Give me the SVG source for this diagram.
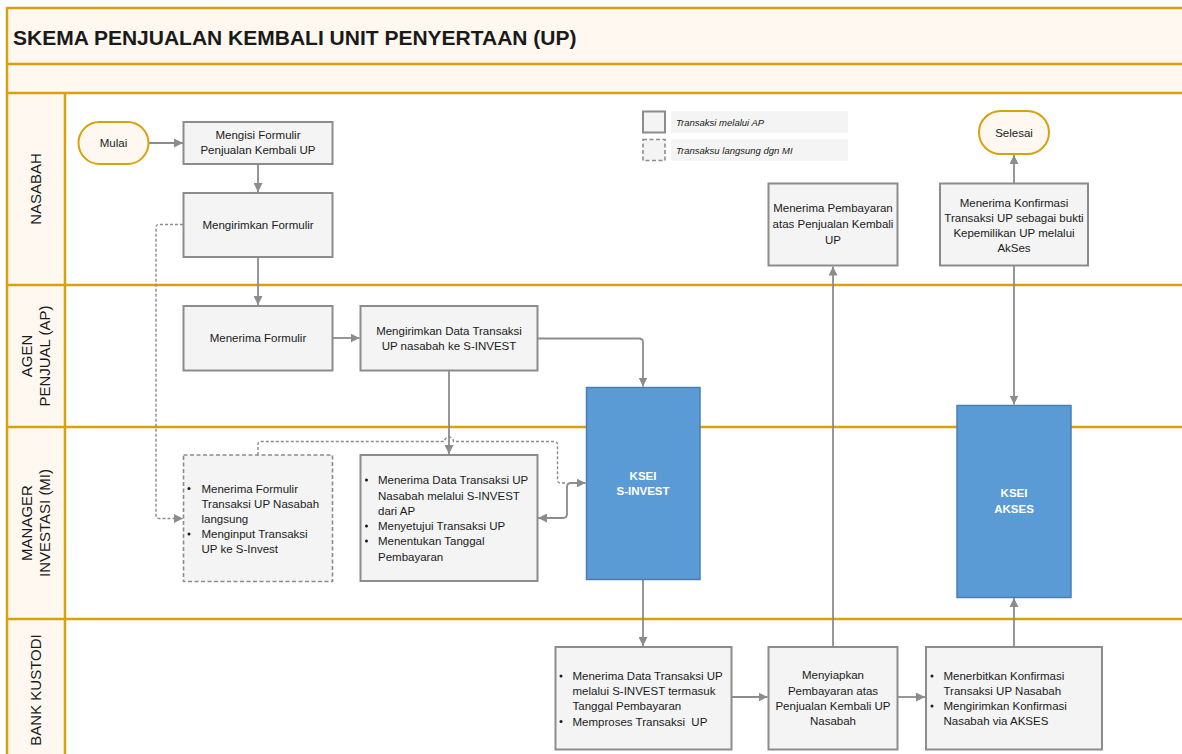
<svg xmlns="http://www.w3.org/2000/svg" width="1182" height="754" viewBox="0 0 1182 754">
<style>
text{font-family:"Liberation Sans",Arial,sans-serif;fill:#1a1a1a}
.t{font-size:11.5px}
.c{text-anchor:middle}
.lane{font-size:15px;text-anchor:middle}
.box{fill:#f4f4f4;stroke:#8c8c8c;stroke-width:2}
.dbox{fill:#f4f4f4;stroke:#8c8c8c;stroke-width:1.6;stroke-dasharray:4 2.5}
.term{fill:#fef8f1;stroke:#d8a10e;stroke-width:2}
.blue{fill:#5b9bd5;stroke:#4a7fb5;stroke-width:1.5}
.bt{font-size:11.5px;font-weight:bold;fill:#ffffff;text-anchor:middle}
.gl{stroke:#d8a10e;stroke-width:2.5;fill:none}
.cn{fill:none;stroke:#8c8c8c;stroke-width:1.8}
.dn{fill:none;stroke:#8c8c8c;stroke-width:1.4;stroke-dasharray:3 2}
.leg{font-size:9.5px;font-style:italic}
</style>
<defs>
<marker id="ah" viewBox="0 0 10 10" refX="10" refY="5" markerWidth="9" markerHeight="9" markerUnits="userSpaceOnUse" orient="auto-start-reverse">
<path d="M0,0 L10,5 L0,10 z" fill="#8c8c8c"/>
</marker>
</defs>
<g id="swimlanes">
<rect x="7" y="8" width="1176" height="56" fill="#fef8f1"/>
<rect x="7" y="64" width="1176" height="29" fill="#fef8f1"/>
<rect x="7" y="93" width="58" height="662" fill="#fef8f1"/>
<line class="gl" x1="7" y1="8" x2="1183" y2="8"/>
<line class="gl" x1="7" y1="64" x2="1183" y2="64"/>
<line class="gl" x1="7" y1="93" x2="1183" y2="93"/>
<line class="gl" x1="7" y1="285" x2="1183" y2="285"/>
<line class="gl" x1="7" y1="427" x2="1183" y2="427"/>
<line class="gl" x1="7" y1="619" x2="1183" y2="619"/>
<line class="gl" x1="7" y1="7" x2="7" y2="755"/>
<line class="gl" x1="65" y1="93" x2="65" y2="755"/>
<text x="13" y="44.5" style="font-size:21px;font-weight:bold">SKEMA PENJUALAN KEMBALI UNIT PENYERTAAN (UP)</text>
<text class="lane" transform="translate(41,189) rotate(-90)">NASABAH</text>
<text class="lane" transform="translate(32,356) rotate(-90)">AGEN</text>
<text class="lane" transform="translate(50,356) rotate(-90)">PENJUAL (AP)</text>
<text class="lane" transform="translate(32,523) rotate(-90)">MANAGER</text>
<text class="lane" transform="translate(50,523) rotate(-90)">INVESTASI (MI)</text>
<text class="lane" transform="translate(41,690) rotate(-90)">BANK KUSTODI</text>
</g>
<g id="legend">
<rect x="643" y="111.5" width="22" height="21" class="box"/>
<rect x="671" y="111" width="177" height="22" fill="#f4f4f4"/>
<text class="leg" x="676" y="125.5">Transaksi melalui AP</text>
<rect x="643" y="139.5" width="22" height="21" class="dbox"/>
<rect x="671" y="139" width="177" height="22" fill="#f4f4f4"/>
<text class="leg" x="676" y="153.5">Transaksu langsung dgn MI</text>
</g>
<g id="connectors">
<path class="cn" d="M148.5,143 H183" marker-end="url(#ah)"/>
<path class="cn" d="M258,164.5 V192" marker-end="url(#ah)"/>
<path class="cn" d="M258,257 V305" marker-end="url(#ah)"/>
<path class="cn" d="M333,338 H359.5" marker-end="url(#ah)"/>
<path class="cn" d="M537.5,338.5 H639 Q643,338.5 643,342.5 V386.5" marker-end="url(#ah)"/>
<path class="cn" d="M449,370.5 V454" marker-end="url(#ah)"/>
<path class="dn" d="M183,224.5 H159 Q156,224.5 156,227.5 V515.5 Q156,518.5 159,518.5 H183" marker-end="url(#ah)"/>
<path class="dn" d="M258,455 V444.5 Q258,441.5 261,441.5 H444.5 A4.5,4.5 0 0 1 453.5,441.5 H554.5 Q557.5,441.5 557.5,444.5 V480 Q557.5,483 560.5,483 H567"/>
<path class="cn" d="M538,518 H563 Q567,518 567,514 V487 Q567,483 571,483 H585.5" marker-start="url(#ah)" marker-end="url(#ah)"/>
<path class="cn" d="M643,579.5 V646" marker-end="url(#ah)"/>
<path class="cn" d="M731.5,697 H767.5" marker-end="url(#ah)"/>
<path class="cn" d="M898,697 H925" marker-end="url(#ah)"/>
<path class="cn" d="M833,646.5 V266.5" marker-end="url(#ah)"/>
<path class="cn" d="M1014,646.5 V598" marker-end="url(#ah)"/>
<path class="cn" d="M1014,266 V404.5" marker-end="url(#ah)"/>
<path class="cn" d="M1014,183 V155" marker-end="url(#ah)"/>
</g>
<g id="mulai">
<rect x="78.5" y="122" width="70" height="42" rx="21" class="term"/>
<text class="t c" x="113.5" y="147">Mulai</text>
</g>
<g id="mengisi">
<rect x="183.5" y="122" width="149" height="42" class="box"/>
<text class="t c" x="258" y="139">Mengisi Formulir</text>
<text class="t c" x="258" y="154">Penjualan Kembali UP</text>
</g>
<g id="mengirimkan-formulir">
<rect x="183.5" y="193" width="149" height="64" class="box"/>
<text class="t c" x="258" y="228.5">Mengirimkan Formulir</text>
</g>
<g id="menerima-formulir">
<rect x="183.5" y="306" width="149" height="64.5" class="box"/>
<text class="t c" x="258" y="342">Menerima Formulir</text>
</g>
<g id="mengirimkan-data">
<rect x="360.5" y="306" width="177" height="64.5" class="box"/>
<text class="t c" x="449" y="335">Mengirimkan Data Transaksi</text>
<text class="t c" x="449" y="350">UP nasabah ke S-INVEST</text>
</g>
<g id="mi-langsung">
<rect x="183.5" y="455" width="149" height="126.5" class="dbox"/>
<g class="t">
<circle cx="189" cy="488.5" r="1.5" fill="#1a1a1a"/>
<text x="201.5" y="492.5">Menerima Formulir</text>
<text x="201.5" y="507.5">Transaksi UP Nasabah</text>
<text x="201.5" y="522.5">langsung</text>
<circle cx="189" cy="534" r="1.5" fill="#1a1a1a"/>
<text x="201.5" y="538">Menginput Transaksi</text>
<text x="201.5" y="553">UP ke S-Invest</text>
</g>
</g>
<g id="mi-menerima">
<rect x="360.5" y="455" width="177" height="126" class="box"/>
<g class="t">
<circle cx="366.5" cy="480" r="1.5" fill="#1a1a1a"/>
<text x="378" y="484">Menerima Data Transaksi UP</text>
<text x="378" y="499.5">Nasabah melalui S-INVEST</text>
<text x="378" y="514.5">dari AP</text>
<circle cx="366.5" cy="526" r="1.5" fill="#1a1a1a"/>
<text x="378" y="530">Menyetujui Transaksi UP</text>
<circle cx="366.5" cy="541" r="1.5" fill="#1a1a1a"/>
<text x="378" y="545">Menentukan Tanggal</text>
<text x="378" y="560.5">Pembayaran</text>
</g>
</g>
<g id="ksei-sinvest">
<rect x="586.5" y="387.5" width="113.5" height="192" class="blue"/>
<text class="bt" x="643" y="479.5">KSEI</text>
<text class="bt" x="643" y="495">S-INVEST</text>
</g>
<g id="ksei-akses">
<rect x="957" y="405.5" width="114" height="192" class="blue"/>
<text class="bt" x="1014" y="497">KSEI</text>
<text class="bt" x="1014" y="513">AKSES</text>
</g>
<g id="menerima-pembayaran">
<rect x="768.5" y="183.5" width="129" height="82" class="box"/>
<text class="t c" x="833" y="212">Menerima Pembayaran</text>
<text class="t c" x="833" y="228">atas Penjualan Kembali</text>
<text class="t c" x="833" y="244">UP</text>
</g>
<g id="menerima-konfirmasi">
<rect x="940" y="183.5" width="148" height="82" class="box"/>
<text class="t c" x="1014" y="206.5">Menerima Konfirmasi</text>
<text class="t c" x="1014" y="221.5">Transaksi UP sebagai bukti</text>
<text class="t c" x="1014" y="236.5">Kepemilikan UP melalui</text>
<text class="t c" x="1014" y="251.5">AkSes</text>
</g>
<g id="selesai">
<rect x="979" y="111" width="70" height="43" rx="21.5" class="term"/>
<text class="t c" x="1014" y="136.5">Selesai</text>
</g>
<g id="bk-menerima">
<rect x="555.5" y="647" width="176" height="102.5" class="box"/>
<g class="t">
<circle cx="561" cy="676" r="1.5" fill="#1a1a1a"/>
<text x="572.5" y="680">Menerima Data Transaksi UP</text>
<text x="572.5" y="694.5">melalui S-INVEST termasuk</text>
<text x="572.5" y="710">Tanggal Pembayaran</text>
<circle cx="561" cy="721.5" r="1.5" fill="#1a1a1a"/>
<text x="572.5" y="725.5" xml:space="preserve">Memproses Transaksi  UP</text>
</g>
</g>
<g id="bk-menyiapkan">
<rect x="768.5" y="647" width="129" height="102.5" class="box"/>
<text class="t c" x="833" y="679">Menyiapkan</text>
<text class="t c" x="833" y="694.5">Pembayaran atas</text>
<text class="t c" x="833" y="710">Penjualan Kembali UP</text>
<text class="t c" x="833" y="725">Nasabah</text>
</g>
<g id="bk-menerbitkan">
<rect x="926" y="647" width="176" height="102.5" class="box"/>
<g class="t">
<circle cx="932" cy="676" r="1.5" fill="#1a1a1a"/>
<text x="943.5" y="680">Menerbitkan Konfirmasi</text>
<text x="943.5" y="695">Transaksi UP Nasabah</text>
<circle cx="932" cy="706" r="1.5" fill="#1a1a1a"/>
<text x="943.5" y="710">Mengirimkan Konfirmasi</text>
<text x="943.5" y="725">Nasabah via AKSES</text>
</g>
</g>
</svg>
